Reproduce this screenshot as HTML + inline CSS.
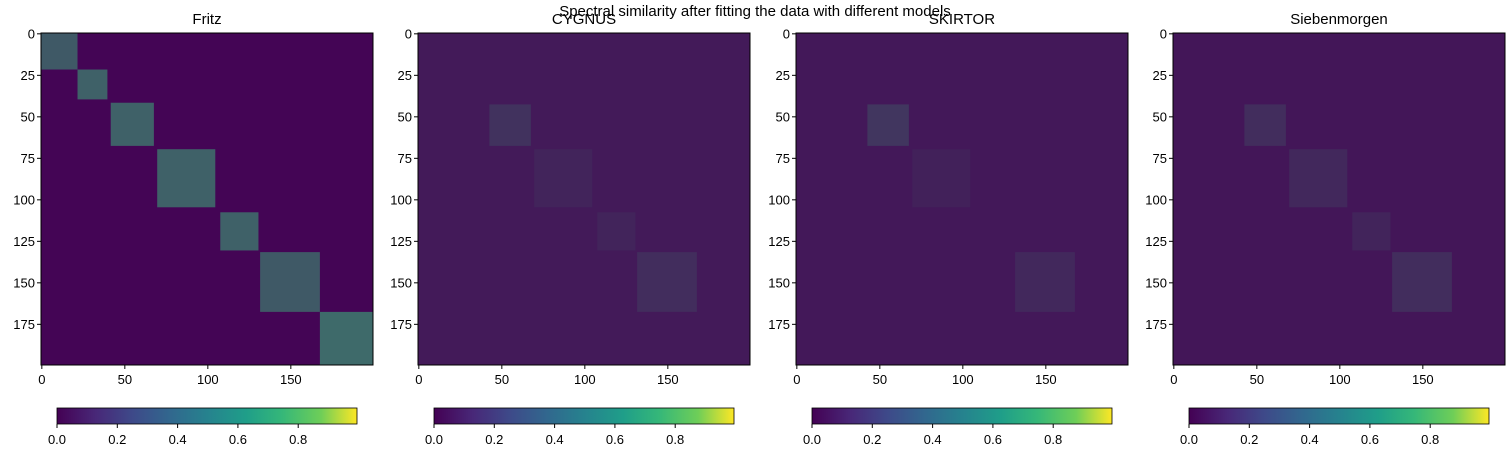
<!DOCTYPE html>
<html><head><meta charset="utf-8"><style>
body{margin:0;background:#fff;width:1510px;height:450px;overflow:hidden;font-family:"Liberation Sans","DejaVu Sans",sans-serif}
</style></head><body>
<svg id="chart" width="1510" height="450" xmlns="http://www.w3.org/2000/svg" font-family="Liberation Sans, DejaVu Sans, sans-serif">
<defs><linearGradient id="vir" x1="0" x2="1" y1="0" y2="0">
<stop offset="0" stop-color="#440154"/><stop offset="0.13" stop-color="#482878"/><stop offset="0.25" stop-color="#3e4989"/><stop offset="0.38" stop-color="#31688e"/><stop offset="0.5" stop-color="#26828e"/><stop offset="0.63" stop-color="#1f9e89"/><stop offset="0.75" stop-color="#35b779"/><stop offset="0.88" stop-color="#6ece58"/><stop offset="1" stop-color="#fde725"/></linearGradient></defs>
<text x="755" y="16" font-size="15" text-anchor="middle">Spectral similarity after fitting the data with different models</text>
</svg>
<script>
const panelTitles=["Fritz","CYGNUS","SKIRTOR","Siebenmorgen"];
const backgroundDensity=[0.02,0.14,0.13,0.12];
// blocks per panel: [start, end, density]
const blocksFritz=[[0,22,0.5],[22,40,0.55],[42,68,0.55],[70,105,0.55],[108,131,0.55],[132,168,0.5],[168,200,0.6]];
const blocksCygnus=[[43,68,0.28],[70,105,0.2],[108,131,0.2],[132,168,0.25]];
const blocksSkirtor=[[43,68,0.3],[70,105,0.18],[132,168,0.22]];
const blocksSieben=[[43,68,0.25],[70,105,0.22],[108,131,0.2],[132,168,0.25]];
const panelBlocks=[blocksFritz,blocksCygnus,blocksSkirtor,blocksSieben];
const yTicks=[0,25,50,75,100,125,150,175];
const xTicks=[0,50,100,150];
const cbTicks=[0,0.2,0.4,0.6,0.8];
const N=200;
const panelX=[41,418,796,1173], plotTop=33, size=332;
const svg=document.getElementById('chart');
const NS="http://www.w3.org/2000/svg";
function mk(t,a,p){const e=document.createElementNS(NS,t);for(const k in a)e.setAttribute(k,a[k]);(p||svg).appendChild(e);return e;}
function mix(d){const a=[0x44,0x01,0x54],b=[0x3a,0xb0,0x78];const c=a.map((v,i)=>Math.round(v+(b[i]-v)*d));return "rgb("+c.join(",")+")";}
panelTitles.forEach((t,p)=>{
  const x0=panelX[p];
  const sx=v=>x0+v*size/N, sy=v=>plotTop+v*size/N;
  const g=mk('g',{});
  
  
  const bg=mk('rect',{x:x0,y:plotTop,width:size,height:size,fill:mix(backgroundDensity[p])},g);
  
  
  panelBlocks[p].forEach(b=>{
    const r=mk('rect',{x:sx(b[0]),y:sy(b[0]),width:sx(b[1])-sx(b[0]),height:sy(b[1])-sy(b[0]),fill:mix(b[2])},g);
    
    
  });
  const fr=mk('rect',{x:x0,y:plotTop,width:size,height:size,fill:'none',stroke:'#000','stroke-width':1},g);
  
  
  const tt=mk('text',{x:x0+size/2,y:24,'font-size':15,'text-anchor':'middle'});
  tt.textContent=t;
  
  
  yTicks.forEach(v=>{const y=sy(v+0.5);
    mk('line',{x1:x0-4,x2:x0,y1:y,y2:y,stroke:'#000'});
    const l=mk('text',{x:x0-6,y:y+4.5,'font-size':13,'text-anchor':'end'});l.textContent=v;
    
    });
  xTicks.forEach(v=>{const x=sx(v+0.5);
    mk('line',{x1:x,x2:x,y1:plotTop+size,y2:plotTop+size+4,stroke:'#000'});
    const l=mk('text',{x:x,y:plotTop+size+19,'font-size':13,'text-anchor':'middle'});l.textContent=v;
    
    });
  const cx=x0+16, cw=300;
  const cb=mk('rect',{x:cx,y:408,width:cw,height:16,fill:'url(#vir)',stroke:'#000','stroke-width':0.8});
  
  
  cbTicks.forEach(v=>{const x=cx+v*cw/0.995;
    mk('line',{x1:x,x2:x,y1:424,y2:428,stroke:'#000'});
    const l=mk('text',{x:x,y:444,'font-size':13,'text-anchor':'middle'});l.textContent=v.toFixed(1);
    
    });
});
</script>
</body></html>
